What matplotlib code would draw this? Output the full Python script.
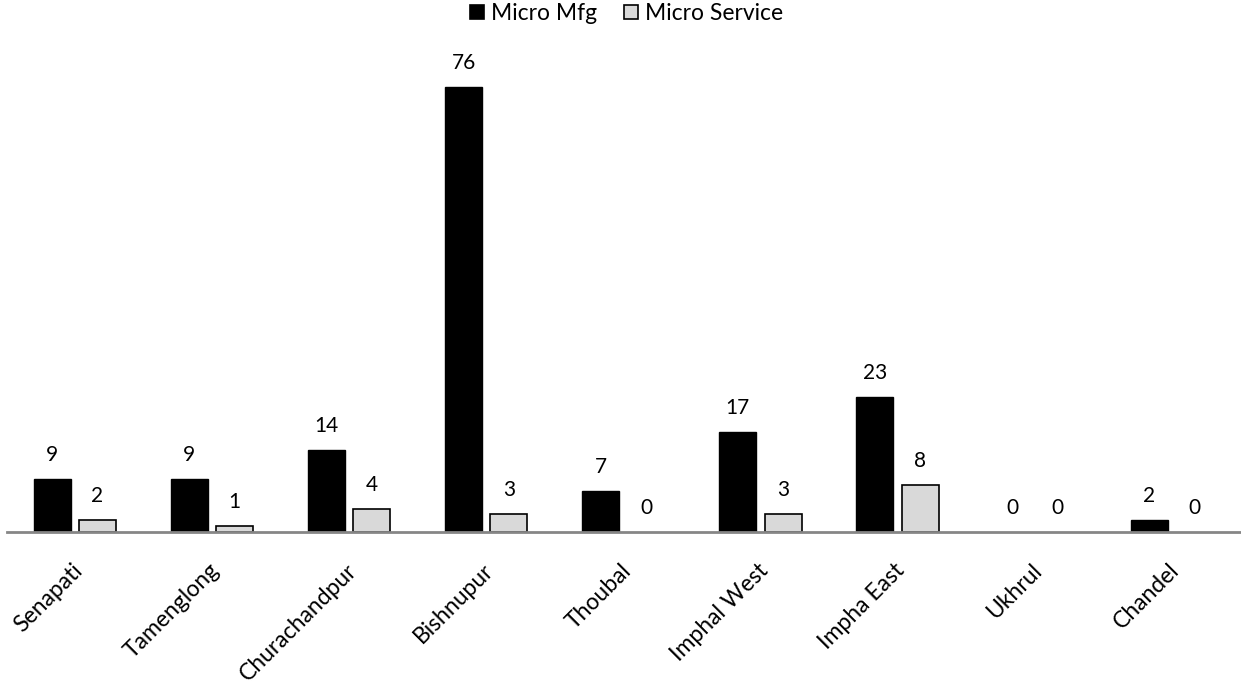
import matplotlib
matplotlib.use("Agg")
import matplotlib.pyplot as plt
import matplotlib.transforms as mtransforms
import numpy as np

plt.rcParams['font.family'] = ['Lato', 'DejaVu Sans']

districts = ["Senapati", "Tamenglong", "Churachandpur", "Bishnupur", "Thoubal",
             "Imphal West", "Impha East", "Ukhrul", "Chandel"]
micro_mfg = [9, 9, 14, 76, 7, 17, 23, 0, 2]
micro_service = [2, 1, 4, 3, 0, 3, 8, 0, 0]

fig = plt.figure(figsize=(12.41, 6.87), dpi=100)
ax = fig.add_axes([7/1241, (687-532)/687, 1234/1241, 492/687])

x = np.arange(len(districts))
w = 0.27
off = 0.33
b1 = ax.bar(x - off/2 - 0.005, micro_mfg, width=w, color='black', edgecolor='black',
            linewidth=1, label='Micro Mfg')
b2 = ax.bar(x + off/2 - 0.005, micro_service, width=w, color='#d9d9d9', edgecolor='black',
            linewidth=1.2, label='Micro Service')

for bars, vals in ((b1, micro_mfg), (b2, micro_service)):
    for rect, v in zip(bars, vals):
        if v == 0:
            rect.set_linewidth(0)
        ax.annotate(str(v), (rect.get_x() + rect.get_width()/2, v), xytext=(0, 13),
                    textcoords='offset points', ha='center', va='baseline', fontsize=15)

ax.set_xlim(-0.5, len(districts) - 0.5)
ax.set_ylim(0, 84.0)
for s in ['top', 'right', 'left']:
    ax.spines[s].set_visible(False)
ax.spines['bottom'].set_color('#868686')
ax.spines['bottom'].set_linewidth(2)
ax.set_yticks([])
ax.set_xticks(x)
ax.set_xticklabels(districts, rotation=45, ha='right', va='top', rotation_mode='anchor',
                   fontsize=16.5)
ax.tick_params(axis='x', length=0, pad=20)
shift = mtransforms.ScaledTranslation(-4/100, 0, fig.dpi_scale_trans)
for lab in ax.get_xticklabels():
    lab.set_transform(lab.get_transform() + shift)

leg = fig.legend(handles=[b1, b2], loc='center', bbox_to_anchor=(0.505, 0.980), ncol=2,
                 frameon=False, fontsize=16.5, handlelength=0.6, handleheight=0.6,
                 handletextpad=0.3, columnspacing=1.2)
for h in leg.legend_handles:
    h.set_linewidth(1.2)

fig.savefig('out.png', dpi=100)
